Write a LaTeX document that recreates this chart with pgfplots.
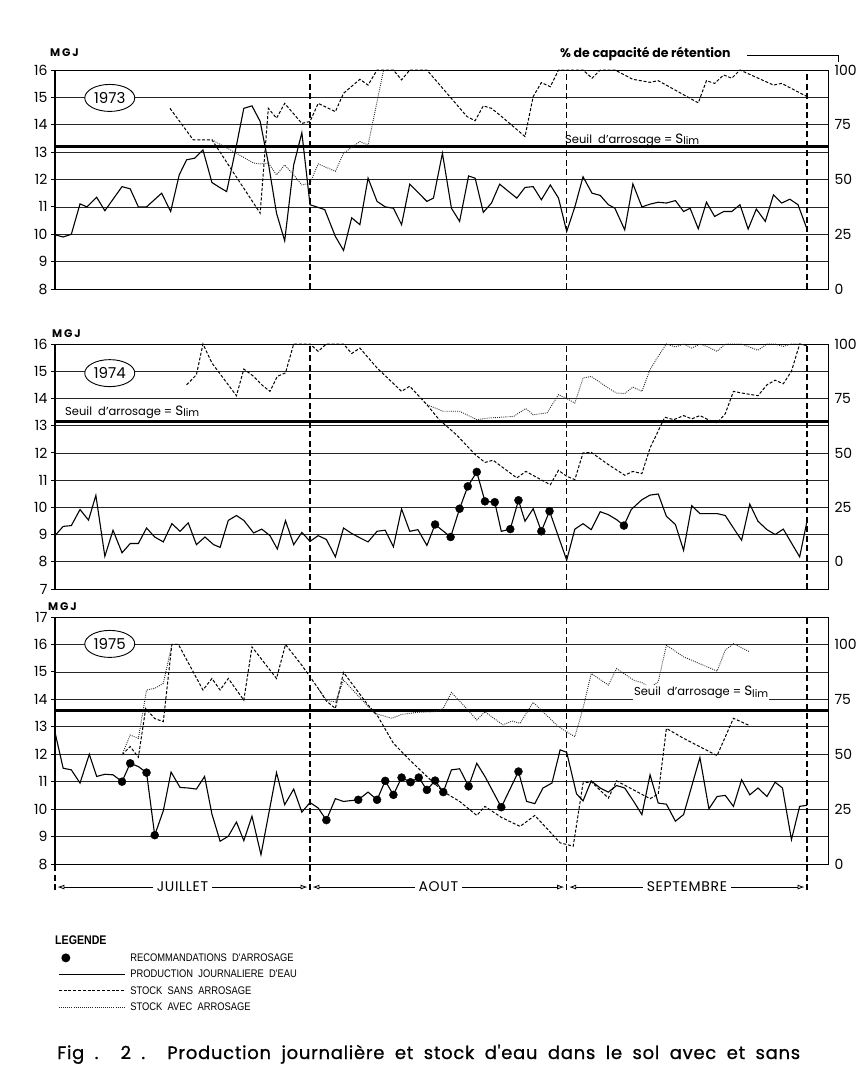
\documentclass[border=0pt]{standalone}
\usepackage{pgfplots}
\pgfplotsset{compat=1.18}
\usepackage{fontspec}
\setmainfont{Poppins}
\newfontfamily\legfont{Liberation Sans}[FakeStretch=0.85]
\newfontfamily\capfont{Poppins}[LetterSpace=4, FakeBold=0.8]
\newfontfamily\spfont{Poppins}[LetterSpace=5]
\usetikzlibrary{shapes.geometric,arrows.meta}
\newcommand\fs[1]{\fontsize{#1bp}{#1bp}\selectfont}
\newcommand\seuiltext{{\fs{11.5}Seuil\ \ d'arrosage = {\fs{13.5}S}\raisebox{-1.5bp}{\fs{10.5}lim}}}

\tikzset{
  month/.style={black, line width=1.1bp, dash pattern=on 6bp off 3.5bp},
  yearnode/.style={draw, ellipse, line width=0.9bp, fill=white, minimum width=50bp, minimum height=27bp, inner sep=0pt, font=\fs{15}},
  monthlab/.style={fill=white, inner xsep=4bp, inner ysep=1bp, font=\spfont\fs{14}},
}
\pgfplotsset{
  panel/.style={
    scale only axis, width=773bp, anchor=south west,
    xmin=0, xmax=94.57, xtick=\empty,
    ytick distance=1,
    ymajorgrids, grid style={black!85, line width=0.7bp},
    axis line style={black, line width=0.8bp},
    ytick pos=left, tick align=outside,
    major tick length=4bp, tick style={black, line width=1bp},
    yticklabel style={font=\fs{14}},
    /pgf/number format/assume math mode=true,
    clip=false, unbounded coords=jump,
  },
  rpanel/.style={
    scale only axis, width=773bp, anchor=south west,
    xmin=0, xmax=94.57,
    axis x line=none, axis y line*=right,
    axis line style={black, line width=0.8bp},
    ytick={0,25,50,75,100}, major tick length=0pt,
    yticklabel style={font=\fs{14}, anchor=west, xshift=3bp},
    /pgf/number format/assume math mode=true,
  },
  prod/.style={black, line width=1.1bp},
  sans/.style={black, line width=1bp, dash pattern=on 3bp off 1.8bp},
  avec/.style={black!85, line width=0.9bp, dash pattern=on 0.9bp off 1.2bp},
  reco/.style={only marks, mark=*, mark size=4bp, black},
  seuil/.style={black, line width=2.6bp},
  lineleg/.style={legend image code/.code={\draw[##1] (0bp,0bp) -- (66bp,0bp);}},
  dotleg/.style={legend image code/.code={\fill[black, draw=none] (7bp,0bp) circle (4.5bp); \path[draw=none, fill=none] (0bp,0bp) -- (66bp,0bp);}},
}

\begin{document}
\begin{tikzpicture}[x=1bp,y=1bp]
\useasboundingbox (0bp,0bp) rectangle (860bp,-1068bp);
\fill[white] (0bp,0bp) rectangle (860bp,-1068bp);

% ================= 1973 =================
\begin{axis}[panel, at={(55bp,-289bp)}, height=219bp, ymin=8, ymax=16]
\draw[black, line width=2bp] (axis cs:0,8) -- (axis cs:0,16);
\pgfplotsinvokeforeach{31.2,62.6,92.0}{\draw[month] (axis cs:#1,8) -- (axis cs:#1,16);}
\addplot[seuil, forget plot] coordinates {(0,13.2) (94.57,13.2)};
\addplot[prod, forget plot] coordinates {(0,9.98) (1.0,9.9) (2.0,10.0) (3.06,11.11) (3.9,11.0) (5.1,11.35) (6.1,10.86) (8.2,11.74) (9.2,11.66) (10.2,11.0) (11.2,11.0) (13.05,11.5) (14.15,10.83) (15.2,12.17) (16.1,12.72) (17.1,12.78) (18.1,13.08) (19.2,11.89) (20.2,11.7) (21.0,11.56) (22.1,13.1) (23.1,14.6) (24.1,14.69) (25.1,14.12) (26.1,12.6) (27.1,10.77) (28.1,9.76) (29.2,12.53) (30.2,13.71) (31.2,11.08) (33.0,10.9) (34.3,9.92) (35.3,9.41) (36.3,10.6) (37.3,10.35) (38.3,12.05) (39.4,11.2) (40.4,11.0) (41.4,10.95) (42.4,10.35) (43.4,11.83) (44.5,11.5) (45.5,11.2) (46.3,11.32) (47.4,12.96) (48.5,10.95) (49.5,10.47) (50.6,12.13) (51.4,12.05) (52.4,10.8) (53.4,11.14) (54.4,11.83) (55.5,11.56) (56.5,11.32) (57.5,11.71) (58.5,11.74) (59.5,11.26) (60.6,11.8) (61.6,11.32) (62.6,10.1) (63.6,11.0) (64.6,12.1) (65.7,11.5) (66.7,11.42) (67.7,11.08) (68.5,10.95) (69.7,10.16) (70.7,11.84) (71.8,11.0) (72.8,11.1) (73.8,11.17) (74.8,11.14) (75.9,11.23) (76.9,10.83) (77.7,10.95) (78.7,10.2) (79.7,11.17) (80.7,10.65) (81.8,10.83) (82.8,10.83) (83.8,11.08) (84.8,10.19) (85.8,10.92) (86.9,10.47) (87.9,11.44) (88.9,11.14) (89.9,11.28) (90.9,11.08) (92.0,10.19)};
\addplot[sans, forget plot] coordinates {(14.07,14.6) (16.9,13.45) (19.2,13.45) (25.1,10.77) (26.1,14.6) (27.1,14.24) (28.1,14.78) (30.2,14.05) (31.2,14.12) (32.2,14.78) (34.3,14.48) (35.3,15.15) (37.3,15.66) (38.3,15.45) (39.4,16.0) (41.4,16.0) (42.4,15.64) (43.4,16) (45.5,16) (50.4,14.3) (51.4,14.15) (52.4,14.69) (53.4,14.6) (54.4,14.36) (57.5,13.57) (58.5,15.03) (59.5,15.54) (60.6,15.39) (61.6,16) (64.6,16) (65.7,15.7) (66.7,16) (68.5,16) (70.7,15.66) (72.8,15.55) (73.8,15.61) (78.7,14.8) (79.7,15.61) (80.7,15.51) (81.8,15.82) (82.8,15.7) (83.8,16) (87.9,15.45) (88.9,15.51) (92.0,15.03)};
\addplot[avec, forget plot] coordinates {(19.2,13.45) (22.2,12.96) (24.3,12.6) (25.1,12.57) (26.1,12.6) (27.1,12.17) (28.1,12.53) (29.2,12.17) (30.2,11.8) (31.2,11.87) (32.2,12.57) (34.3,12.3) (35.3,12.96) (37.3,13.39) (38.3,13.26) (40.2,16)};
\node[yearnode] at (axis cs:6.7,14.98) {1973};
\end{axis}
\begin{axis}[rpanel, at={(55bp,-289bp)}, height=219bp, ymin=0, ymax=100]
\addplot[draw=none, forget plot] coordinates {(0,0)};
\end{axis}
\node[anchor=west, inner sep=0pt] at (565bp,-140bp) {\seuiltext};
\node[anchor=west, inner sep=0pt, font=\bfseries\fs{11}] at (50bp,-53bp) {M\,G\,J};
\node[anchor=west, inner sep=0pt, font=\bfseries\fs{12.5}] at (560bp,-54bp) {\% de capacité de rétention};
\draw[line width=1bp] (747bp,-55bp) -- (838bp,-55bp) -- (838bp,-62bp);

% ================= 1974 =================
\begin{axis}[panel, at={(55bp,-589bp)}, height=245bp, ymin=7, ymax=16]
\draw[black, line width=2bp] (axis cs:0,7) -- (axis cs:0,16);
\pgfplotsinvokeforeach{31.2,62.6,92.0}{\draw[month] (axis cs:#1,7) -- (axis cs:#1,16);}
\addplot[seuil, forget plot] coordinates {(0,13.15) (94.57,13.15)};
\addplot[prod, forget plot] coordinates {(0,8.96) (1.0,9.3) (2.0,9.33) (3.06,9.92) (4.1,9.53) (5.0,10.44) (6.1,8.2) (7.1,9.16) (8.2,8.33) (9.2,8.67) (10.2,8.67) (11.2,9.24) (12.2,8.91) (13.25,8.73) (14.3,9.4) (15.3,9.12) (16.3,9.43) (17.3,8.63) (18.35,8.91) (19.4,8.63) (20.2,8.53) (21.2,9.52) (22.2,9.7) (23.1,9.52) (24.3,9.06) (25.3,9.2) (26.3,8.96) (27.2,8.47) (28.2,9.51) (29.2,8.63) (30.2,9.08) (31.2,8.75) (32.2,8.96) (33.2,8.82) (34.3,8.18) (35.3,9.24) (36.3,9.04) (37.3,8.88) (38.3,8.73) (39.4,9.12) (40.4,9.16) (41.4,8.55) (42.4,9.94) (43.4,9.12) (44.4,9.18) (45.5,8.6) (46.5,9.37) (48.4,8.91) (49.5,9.95) (50.5,10.77) (51.6,11.3) (52.6,10.22) (53.8,10.19) (54.6,9.12) (55.7,9.2) (56.7,10.26) (57.5,9.49) (58.5,9.95) (59.5,9.12) (60.5,9.86) (62.6,8.06) (63.6,9.2) (64.6,9.4) (65.6,9.18) (66.7,9.84) (67.7,9.73) (68.7,9.55) (69.6,9.33) (70.5,9.92) (71.8,10.28) (72.8,10.45) (73.8,10.49) (74.8,9.67) (75.9,9.37) (76.9,8.42) (77.9,10.06) (78.9,9.77) (79.9,9.77) (81.0,9.77) (82.0,9.7) (83.0,9.24) (84.0,8.79) (85.0,10.12) (86.0,9.49) (87.1,9.18) (88.1,9.0) (89.1,9.2) (90.1,8.69) (91.1,8.18) (92.0,9.49)};
\addplot[sans, forget plot] coordinates {(16.1,14.5) (17.3,14.87) (18.1,16.0) (19.2,15.3) (22.2,14.1) (23.1,15.08) (24.3,14.81) (25.3,14.5) (26.3,14.26) (27.2,14.81) (28.2,14.94) (29.2,16) (31.2,16) (32.2,15.73) (33.2,16) (35.3,16) (36.3,15.65) (37.3,15.85) (39.4,15.12) (42.4,14.26) (43.4,14.45) (45.5,13.77) (47.0,13.22) (49.1,12.67) (51.4,11.94) (52.6,11.65) (53.6,11.73) (56.5,11.08) (57.6,11.32) (60.6,10.83) (61.6,11.36) (62.6,11.14) (63.6,11.02) (64.6,12.0) (65.6,12.02) (67.7,11.57) (69.7,11.18) (70.7,11.32) (71.8,11.24) (72.8,12.18) (74.6,13.31) (75.7,13.22) (76.9,13.37) (77.9,13.25) (78.9,13.37) (79.9,13.22) (81.0,13.1) (82.0,13.44) (83.0,14.26) (84.0,14.2) (86.0,14.1) (87.1,14.5) (88.1,14.67) (89.1,14.54) (90.1,15.0) (91.1,16) (92.0,15.94)};
\addplot[avec, forget plot] coordinates {(45.5,13.77) (47.5,13.53) (49.5,13.53) (51.6,13.22) (53.0,13.28) (56.1,13.34) (57.6,13.63) (58.5,13.4) (60.2,13.47) (61.6,14.14) (62.6,14.0) (63.6,13.83) (64.6,14.75) (65.6,14.81) (67.7,14.38) (68.7,14.2) (69.7,14.18) (70.7,14.42) (71.8,14.26) (72.8,15.06) (73.8,15.55) (74.8,16) (75.9,15.89) (76.9,16) (77.9,15.85) (78.9,16) (79.9,15.89) (81.0,15.73) (82.0,16) (84.0,16) (86.0,15.77) (87.1,16) (88.1,16) (89.1,15.91) (90.1,16) (91.1,16) (92.0,15.94)};
\addplot[reco, forget plot] coordinates {(46.5,9.37) (48.4,8.91) (49.5,9.95) (50.5,10.77) (51.6,11.3) (52.6,10.22) (53.8,10.19) (55.7,9.2) (56.7,10.26) (59.5,9.12) (60.5,9.86) (69.6,9.33)};
\node[yearnode] at (axis cs:6.7,14.93) {1974};
\end{axis}
\begin{axis}[rpanel, at={(55bp,-589bp)}, height=245bp, ymin=-12.5, ymax=100]
\addplot[draw=none, forget plot] coordinates {(0,0)};
\end{axis}
\node[anchor=west, inner sep=0pt] at (65bp,-412bp) {\seuiltext};
\node[anchor=west, inner sep=0pt, font=\bfseries\fs{11}] at (52bp,-334bp) {M\,G\,J};

% ================= 1975 =================
\begin{axis}[panel, at={(55bp,-864bp)}, height=247bp, ymin=8, ymax=17,
  legend style={at={(axis description cs:0.004,-0.357)}, anchor=north west, draw=none, fill=none, inner sep=0pt, font=\legfont\fs{11}, row sep=5.5bp, cells={anchor=west}, nodes={inner sep=1bp, text height=8bp, text depth=1bp}, /tikz/every odd column/.append style={column sep=4bp}}]
\draw[black, line width=2bp] (axis cs:0,8) -- (axis cs:0,17);
\draw[month] (axis cs:0,7.05) -- (axis cs:0,8);
\pgfplotsinvokeforeach{31.2,62.6,92.0}{\draw[month] (axis cs:#1,7.05) -- (axis cs:#1,17);}
\addplot[seuil, forget plot] coordinates {(0,13.6) (94.57,13.6)};
\addplot[prod, forget plot] coordinates {(0,12.8) (1.0,11.49) (2.0,11.43) (3.06,10.95) (4.2,12.0) (5.1,11.19) (6.1,11.27) (7.1,11.25) (8.2,11.0) (9.2,11.67) (10.2,11.55) (11.2,11.33) (12.2,9.05) (13.25,9.94) (14.2,11.35) (15.3,10.79) (16.3,10.77) (17.3,10.73) (18.3,11.19) (19.2,9.82) (20.2,8.83) (21.2,9.01) (22.2,9.53) (23.1,8.85) (24.1,9.74) (25.2,8.34) (27.1,11.33) (28.1,10.16) (29.2,10.73) (30.2,9.89) (31.2,10.24) (32.2,10.04) (33.2,9.6) (34.3,10.38) (35.3,10.28) (37.1,10.34) (38.3,10.62) (39.4,10.34) (40.4,11.03) (41.4,10.52) (42.4,11.15) (43.5,10.98) (44.5,11.15) (45.5,10.7) (46.5,11.04) (47.5,10.62) (48.5,11.43) (49.5,11.47) (50.6,10.83) (51.6,11.67) (52.6,11.19) (54.6,10.07) (56.7,11.37) (57.7,10.28) (58.7,10.2) (59.7,10.77) (60.8,10.95) (61.8,12.16) (62.6,12.07) (63.8,10.56) (64.6,10.3) (65.6,11.03) (66.7,10.77) (67.7,10.62) (68.7,10.86) (69.7,10.77) (70.8,10.28) (71.8,9.8) (72.8,11.25) (73.8,10.22) (74.8,10.18) (75.9,9.56) (76.9,9.8) (78.9,11.88) (80.0,10.01) (81.0,10.46) (82.0,10.5) (83.0,10.1) (84.0,11.07) (85.0,10.52) (86.0,10.77) (87.1,10.46) (88.1,10.98) (89.0,10.77) (90.1,8.89) (91.1,10.1) (92.0,10.14)};
\addplot[sans, forget plot] coordinates {(8.2,11.98) (9.2,12.28) (10.2,11.89) (11.1,13.67) (12.2,13.3) (13.25,13.19) (14.3,16.0) (15.1,16.0) (18.1,14.34) (19.2,14.76) (20.2,14.34) (21.2,14.76) (23.1,13.97) (24.1,15.91) (27.1,14.76) (28.2,16.0) (30.2,15.24) (32.2,14.4) (33.2,13.94) (34.3,13.67) (35.3,14.98) (38.3,13.79) (39.4,13.43) (41.4,12.4) (43.4,11.79) (45.5,11.19) (47.5,10.64) (49.5,10.28) (51.6,9.77) (52.6,10.1) (54.6,9.7) (56.9,9.37) (58.7,9.77) (61.8,8.77) (63.4,8.65) (64.6,10.95) (65.6,11.0) (67.7,10.4) (68.7,11.03) (72.8,10.38) (73.8,10.55) (74.8,12.94) (76.9,12.58) (81.0,11.95) (83.0,13.31) (85.0,13.04)};
\addplot[avec, forget plot] coordinates {(8.2,11.98) (9.2,12.7) (10.2,12.58) (11.2,14.34) (12.2,14.4) (13.25,14.58) (14.3,16.0) (15,nan) (32.2,14.4) (33.2,13.97) (34.3,13.9) (35.3,14.7) (39.1,13.49) (41.2,13.31) (42.4,13.45) (44.4,13.53) (46.5,13.55) (47.5,13.67) (48.5,14.25) (49.5,13.94) (51.6,13.25) (52.6,13.55) (54.8,13.07) (55.9,13.21) (56.9,13.13) (58.5,13.89) (61.6,13.0) (63.6,12.64) (64.6,13.67) (65.6,14.94) (67.7,14.52) (68.7,15.12) (70.8,14.7) (71.8,14.61) (72.8,14.42) (73.8,14.64) (74.8,15.97) (76.9,15.55) (81.0,15.03) (82.0,15.79) (83.0,16.03) (85.0,15.73)};
\addplot[reco, forget plot] coordinates {(8.2,11.0) (9.2,11.67) (11.2,11.33) (12.2,9.05) (33.2,9.6) (37.1,10.34) (39.4,10.34) (40.4,11.03) (41.4,10.52) (42.4,11.15) (43.5,10.98) (44.5,11.15) (45.5,10.7) (46.5,11.04) (47.5,10.62) (50.6,10.83) (54.6,10.07) (56.7,11.37)};
\node[yearnode] at (axis cs:6.7,16.02) {1975};
\node[anchor=west, inner sep=1pt, fill=white] at (axis cs:70.7,14.24) {\seuiltext};
% month arrows
\draw[{Latex[open,length=7bp,width=5bp]}-{Latex[open,length=7bp,width=5bp]}, line width=0.8bp] (axis cs:0.3,7.16) -- (axis cs:30.9,7.16);
\draw[{Latex[open,length=7bp,width=5bp]}-{Latex[open,length=7bp,width=5bp]}, line width=0.8bp] (axis cs:31.5,7.16) -- (axis cs:62.3,7.16);
\draw[{Latex[open,length=7bp,width=5bp]}-{Latex[open,length=7bp,width=5bp]}, line width=0.8bp] (axis cs:62.9,7.16) -- (axis cs:91.7,7.16);
\node[monthlab] at (axis cs:15.6,7.16) {JUILLET};
\node[monthlab] at (axis cs:46.9,7.16) {AOUT};
\node[monthlab] at (axis cs:77.3,7.16) {SEPTEMBRE};
% legend
\addlegendimage{dotleg}
\addlegendentry{RECOMMANDATIONS\ \ D'ARROSAGE}
\addlegendimage{lineleg, prod}
\addlegendentry{PRODUCTION\ \ JOURNALIERE\ \ D'EAU}
\addlegendimage{lineleg, sans}
\addlegendentry{STOCK\ \ SANS\ \ ARROSAGE}
\addlegendimage{lineleg, avec}
\addlegendentry{STOCK\ \ AVEC\ \ ARROSAGE}
\end{axis}
\begin{axis}[rpanel, at={(55bp,-864bp)}, height=247bp, ymin=0, ymax=112.5]
\addplot[draw=none, forget plot] coordinates {(0,0)};
\end{axis}
\node[anchor=west, inner sep=0pt, font=\bfseries\fs{11}] at (48bp,-607bp) {M\,G\,J};

\node[anchor=west, inner sep=0pt, font=\legfont\bfseries\fs{12.5}] at (55bp,-940bp) {LEGENDE};
\node[anchor=base west, inner sep=0pt] at (57bp,-1059bp) {\capfont\fs{18}\makebox[743bp][s]{Fig . 2 . Production journalière et stock d'eau dans le sol avec et sans}};
\end{tikzpicture}
\end{document}
